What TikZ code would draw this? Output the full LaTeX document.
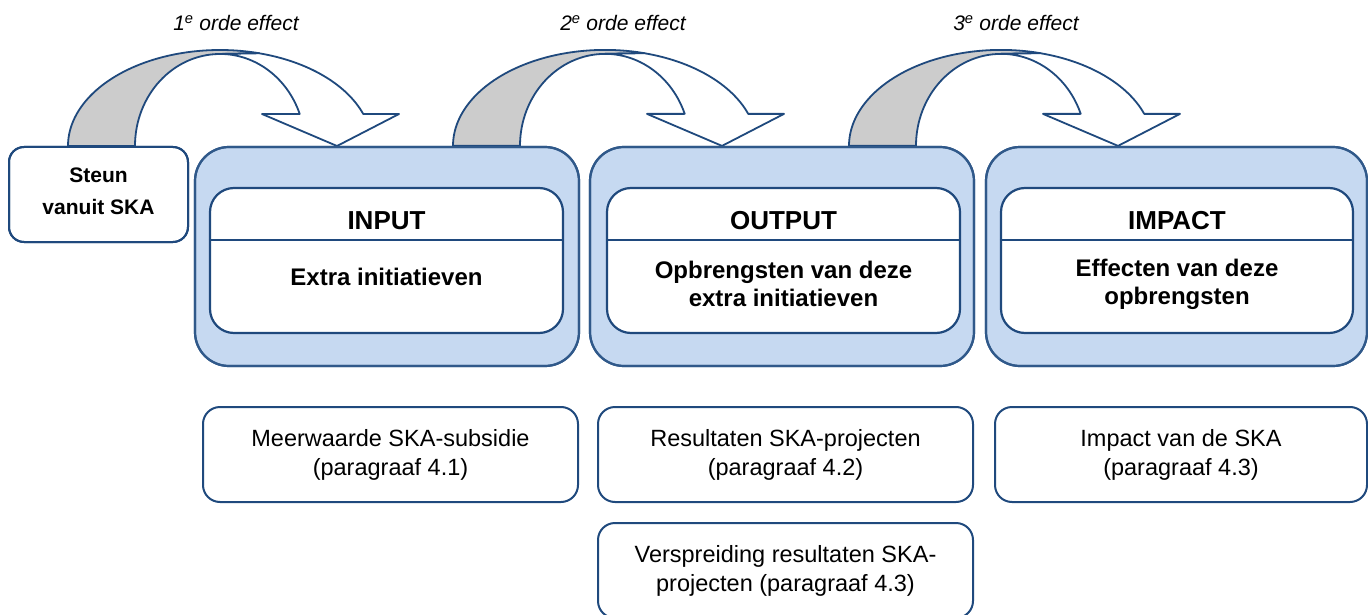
\documentclass[tikz,border=0pt]{standalone}
\usepackage{fontspec}
\setmainfont{Liberation Sans}
\definecolor{edgeblue}{HTML}{30598A}
\definecolor{darkblue}{HTML}{1F497D}
\definecolor{fillblue}{HTML}{C6D9F1}
\definecolor{bandgrey}{HTML}{CCCCCC}
\begin{document}
\begin{tikzpicture}[x=1pt,y=-1pt,
  outerbox/.style={draw=edgeblue, fill=fillblue, line width=2.2pt, rounded corners=34pt,
    minimum width=384pt, minimum height=219pt, inner sep=0pt},
  innerbox/.style={draw=darkblue, fill=white, line width=2.2pt, rounded corners=24pt,
    minimum width=353pt, minimum height=145pt, inner sep=0pt},
  smallbox/.style={draw=darkblue, fill=white, line width=2pt, rounded corners=17pt,
    minimum width=375pt, minimum height=95pt, inner sep=0pt, align=center,
    font=\fontsize{23.5}{29}\selectfont},
  steunbox/.style={draw=darkblue, fill=white, line width=2pt, rounded corners=15pt,
    minimum width=179pt, minimum height=95pt, inner sep=0pt},
  divider/.style={draw=darkblue, line width=2.2pt},
  titletext/.style={font=\fontsize{26}{30}\selectfont\bfseries, inner sep=0pt},
  subtext/.style={font=\fontsize{24}{28}\selectfont\bfseries, align=center, inner sep=0pt},
  efflabel/.style={font=\fontsize{21}{24}\selectfont\itshape, inner sep=0pt},
  bandline/.style={draw=darkblue, line width=1.8pt, line join=round},
  curvarrow/.pic={
    \filldraw[bandline, fill=bandgrey]
      (0,0) arc[start angle=180, end angle=285, x radius=152, y radius=96]
      -- (152,-92) arc[start angle=270, end angle=180, x radius=85, y radius=92]
      -- cycle;
    \filldraw[bandline, fill=white]
      (191.3,-92.7) arc[start angle=285, end angle=340.5, x radius=152, y radius=96]
      -- (331,-32) -- (269,0) -- (194,-32) -- (231.7,-32.05)
      arc[start angle=339.65, end angle=270, x radius=85, y radius=92]
      -- cycle;
  }]
\useasboundingbox (0,0) rectangle (1368,615);

% main boxes
\node[steunbox] (steun) at (98.5,194.5) {};
\node[outerbox] (input) at (387,256.5) {};
\node[outerbox] (output) at (782,256.5) {};
\node[outerbox, minimum width=381pt] (impact) at (1176.5,256.5) {};

% curved arrows (connectors between stages)
\pic at ([xshift=-30.5pt]steun.north) {curvarrow};
\pic at ([xshift=66pt]input.north) {curvarrow};
\pic at ([xshift=67pt]output.north) {curvarrow};

% redraw box outlines over arrow bases
\node[steunbox, fill=none] at (steun) {};
\node[outerbox, fill=none] at (input) {};
\node[outerbox, fill=none] at (output) {};
\node[outerbox, fill=none, minimum width=381pt] at (impact) {};

% inner boxes
\node[innerbox] (inputin) at (386.5,260.5) {};
\node[innerbox] (outputin) at (783.5,260.5) {};
\node[innerbox, minimum width=352pt] (impactin) at (1177,260.5) {};
\foreach \b in {inputin,outputin,impactin}{
  \draw[divider] ([yshift=-53pt]\b.north west) -- ([yshift=-53pt]\b.north east);
}

% texts in boxes
\node[align=center, font=\fontsize{21}{32}\selectfont\bfseries, inner sep=0pt] (steuntext) at (98.5,191) {Steun\\vanuit SKA};
\node[titletext] (t1) at (386.5,221) {INPUT};
\node[titletext] (t2) at (783.5,221) {OUTPUT};
\node[titletext] (t3) at (1177,221) {IMPACT};
\node[subtext] (s1) at (386.5,277) {Extra initiatieven};
\node[subtext] (s2) at (783.5,284) {Opbrengsten van deze\\extra initiatieven};
\node[subtext] (s3) at (1177,284) {Effecten van deze\\opbrengsten};

% effect labels
\node[efflabel] (e1) at (236,23) {1\textsuperscript{e} orde effect};
\node[efflabel] (e2) at (623,23) {2\textsuperscript{e} orde effect};
\node[efflabel] (e3) at (1016,23) {3\textsuperscript{e} orde effect};

% lower boxes
\node[smallbox] (meer) at (390.5,454.5) {Meerwaarde SKA-subsidie\\(paragraaf 4.1)};
\node[smallbox] (resul) at (785.5,454.5) {Resultaten SKA-projecten\\(paragraaf 4.2)};
\node[smallbox, minimum width=372pt] (impska) at (1181,454.5) {Impact van de SKA\\(paragraaf 4.3)};
\node[smallbox] (versp) at (785.5,570.5) {Verspreiding resultaten SKA-\\projecten (paragraaf 4.3)};
\end{tikzpicture}
\end{document}
